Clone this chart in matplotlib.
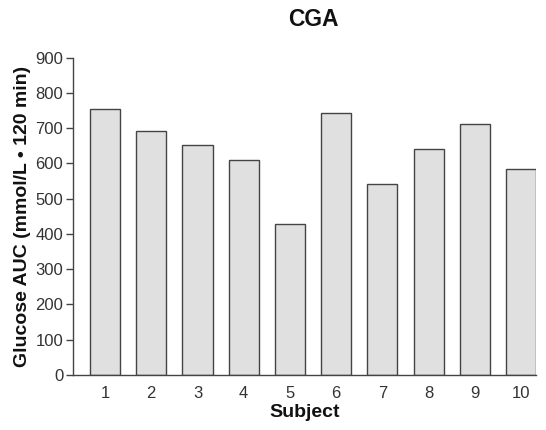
import matplotlib
matplotlib.use("Agg")
import matplotlib.pyplot as plt

plt.rcParams['font.family'] = ['Liberation Sans', 'DejaVu Sans']

# glucose AUC per subject, CGA arm
subjects = [1, 2, 3, 4, 5, 6, 7, 8, 9, 10]
auc = [755, 693, 652, 610, 429, 743, 541, 641, 712, 583]
yticks = [0, 100, 200, 300, 400, 500, 600, 700, 800, 900]

fig = plt.figure(figsize=(5.46, 4.3), dpi=100)
ax = fig.add_axes([0.1337, 0.1279, 0.8483, 0.7379])

ax.bar(subjects, auc, width=0.65, color='#e0e0e0', edgecolor='#444444', linewidth=1.0)

ax.set_xlim(0.305, 10.33)
ax.set_ylim(0, 900)
ax.set_yticks(yticks)
ax.set_xticks(subjects)

for s in ['top', 'right']:
    ax.spines[s].set_visible(False)
for s in ['left', 'bottom']:
    ax.spines[s].set_color('#444444')
    ax.spines[s].set_linewidth(1.0)

ax.tick_params(axis='y', direction='out', length=5, width=1.0, color='#444444',
               labelsize=12, labelcolor='#333333', pad=2)
ax.tick_params(axis='x', length=0, labelsize=12, labelcolor='#333333', pad=8)

ax.set_xlabel('Subject', fontsize=14, fontweight='bold', color='#111111', labelpad=2)
ax.set_ylabel('Glucose AUC (mmol/L \u2022 120 min)', fontsize=14, fontweight='bold',
              color='#111111', labelpad=3)

fig.text(313 / 546, 1 - 19 / 430, 'CGA', ha='center', va='center',
         fontsize=16.5, fontweight='bold', color='#111111')

fig.savefig('out.png', dpi=100)
